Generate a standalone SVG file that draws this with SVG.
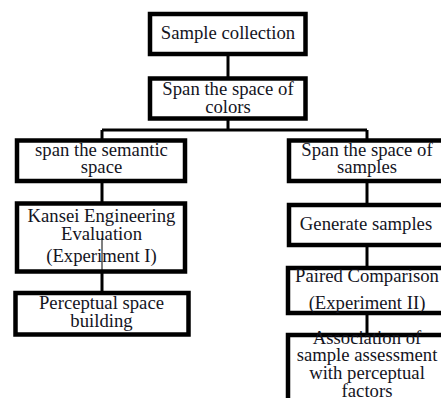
<svg xmlns="http://www.w3.org/2000/svg" width="441" height="398" viewBox="0 0 441 398">
  <style>
    .box { fill: #ffffff; stroke: #000000; stroke-width: 4.5; }
    .link { stroke: #000000; stroke-width: 3; fill: none; }
    .thin { stroke: #000000; stroke-width: 1; fill: none; }
    text { font-family: "Liberation Serif", "Times New Roman", serif; font-size: 18.7px; fill: #14141e; text-anchor: middle; }
  </style>
  <rect width="441" height="398" fill="#ffffff"/>

  <!-- connectors -->
  <g id="connectors">
    <line class="link" x1="228" y1="55" x2="228" y2="79"/>
    <line class="link" x1="228" y1="118" x2="228" y2="130"/>
    <line class="link" x1="102" y1="130" x2="367" y2="130"/>
    <line class="link" x1="102" y1="130" x2="102" y2="141"/>
    <line class="link" x1="367" y1="130" x2="367" y2="141"/>
    <line class="link" x1="102" y1="181" x2="102" y2="204"/>
    <line class="link" x1="102" y1="271" x2="102" y2="293"/>
    <line class="link" x1="367" y1="181" x2="367" y2="205"/>
    <line class="link" x1="367" y1="245" x2="367" y2="268"/>
    <line class="link" x1="367" y1="313" x2="367" y2="335"/>
  </g>

  <!-- left column -->
  <g id="sample-collection">
    <rect class="box" x="150" y="14" width="155.5" height="40"/>
    <text x="228" y="39">Sample collection</text>
  </g>

  <g id="span-colors">
    <rect class="box" x="150" y="78.5" width="155.5" height="40"/>
    <text x="228" y="95">Span the space of</text>
    <text x="228" y="112.5">colors</text>
  </g>

  <g id="span-semantic">
    <rect class="box" x="17" y="140.5" width="168" height="40.5"/>
    <text x="101.5" y="156">span the semantic</text>
    <text x="101.5" y="173">space</text>
  </g>

  <g id="kansei-evaluation">
    <rect class="box" x="17" y="203.5" width="168" height="68"/>
    <text x="101.5" y="221.5">Kansei Engineering</text>
    <text x="101.5" y="239.5">Evaluation</text>
    <text x="101.5" y="261.5">(Experiment I)</text>
    <line class="thin" x1="102" y1="238" x2="102" y2="271"/>
  </g>

  <g id="perceptual-space">
    <rect class="box" x="15.5" y="293" width="173" height="41.5"/>
    <text x="101.5" y="309">Perceptual space</text>
    <text x="101.5" y="326.5">building</text>
  </g>

  <!-- right column -->
  <g id="span-samples">
    <rect class="box" x="289" y="140.5" width="165" height="40.5"/>
    <text x="367" y="156">Span the space of</text>
    <text x="367" y="173">samples</text>
  </g>

  <g id="generate-samples">
    <rect class="box" x="289" y="205" width="165" height="40"/>
    <text x="366" y="230">Generate samples</text>
  </g>

  <g id="paired-comparison">
    <rect class="box" x="288" y="268" width="166" height="45"/>
    <text x="367" y="282">Paired Comparison</text>
    <text x="367" y="309">(Experiment II)</text>
  </g>

  <g id="association">
    <rect class="box" x="288" y="335" width="166" height="80"/>
    <text x="367" y="343.5">Association of</text>
    <text x="367" y="361">sample assessment</text>
    <text x="367" y="379">with perceptual</text>
    <text x="367" y="396.5">factors</text>
  </g>
</svg>
